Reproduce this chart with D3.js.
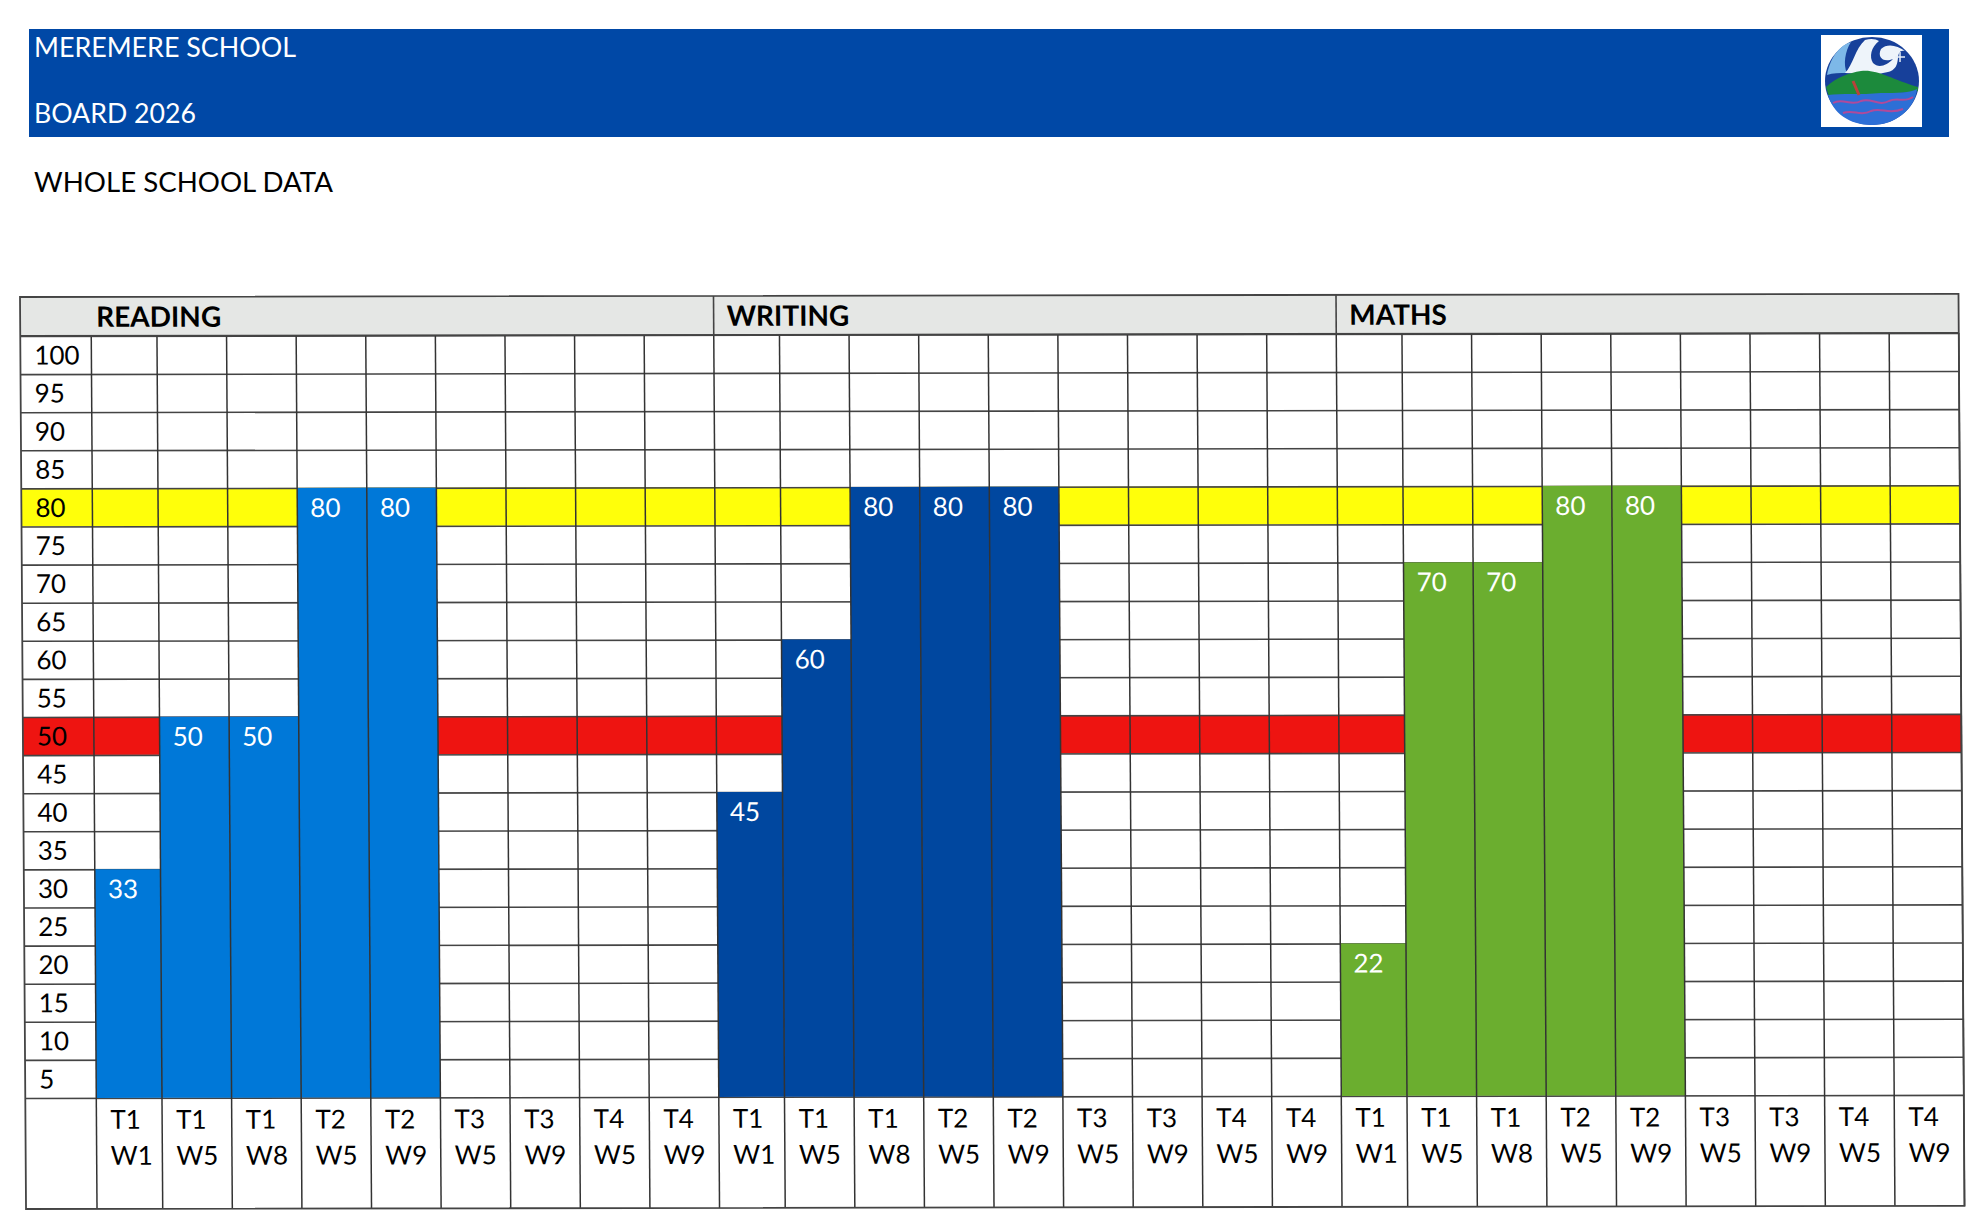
<!DOCTYPE html>
<html>
<head>
<meta charset="utf-8">
<script src="https://cdn.jsdelivr.net/npm/d3@7"></script>
<style>
  html, body { margin: 0; padding: 0; background: #fff; }
  svg { display: block; }
  text { font-family: "Lato", "Open Sans", sans-serif; }
</style>
</head>
<body>
<svg width="1980" height="1224"></svg>
<script>
/* Data */

var schoolName = "MEREMERE SCHOOL";
var boardName = "BOARD 2026";
var pageTitle = "WHOLE SCHOOL DATA";

var subjects = ["READING", "WRITING", "MATHS"];
var terms = ["T1", "T1", "T1", "T2", "T2", "T3", "T3", "T4", "T4"];
var weeks = ["W1", "W5", "W8", "W5", "W9", "W5", "W9", "W5", "W9"];
var rowTicks = [100, 95, 90, 85, 80, 75, 70, 65, 60, 55, 50, 45, 40, 35, 30, 25, 20, 15, 10, 5];

// printed value of each column, blank until the term has been assessed
var readingLabels = [33, 50, 50, 80, 80, null, null, null, null];
var writingLabels = [45, 60, 80, 80, 80, null, null, null, null];
var mathsLabels = [22, 70, 70, 80, 80, null, null, null, null];

// height the column is actually shaded to on the sheet
var readingLevels = [30, 50, 50, 80, 80, null, null, null, null];
var writingLevels = [40, 60, 80, 80, 80, null, null, null, null];
var mathsLevels = [20, 70, 70, 80, 80, null, null, null, null];

var targetRow = 80;
var floorRow = 50;

var subjectColors = ["#0078d8", "#00479f", "#6bae2f"];

/* Layout */

var svg = d3.select("svg");

var left = 20,
    labelW = 71,
    firstW = 65.7,
    colW = 69.6,
    top_ = 297,
    plotTop = 336,
    plotBottom = 1098,
    bottom = 1209;

var rowH = (plotBottom - plotTop) / rowTicks.length;

// the sheet was scanned slightly crooked
var shearX = 0.0066, shearY = -0.0016;

// column edges: the first column of every subject is a bit narrower
var edges = [left + labelW];
subjects.forEach(() => {
  terms.forEach((t, i) => edges.push(edges[edges.length - 1] + (i === 0 ? firstW : colW)));
});
var right = edges[edges.length - 1];

var x = d3.scaleLinear().domain(d3.range(edges.length)).range(edges);
var y = d3.scaleLinear().domain([0, 100]).range([plotBottom, plotTop]);

/* Banner */

svg.append("rect")
  .attr("x", 29).attr("y", 29)
  .attr("width", 1920).attr("height", 108)
  .attr("fill", "#0048a6");

var titles = [
  {text: schoolName, y: 57, fill: "#fff", len: 262},
  {text: boardName, y: 123, fill: "#fff", len: 162},
  {text: pageTitle, y: 192, fill: "#000", len: 299}
];
svg.selectAll(".title")
  .data(titles)
  .enter().append("text")
  .classed("title", true)
  .attr("x", 34)
  .attr("y", (d) => d.y)
  .attr("fill", (d) => d.fill)
  .attr("font-size", 27)
  .attr("textLength", (d) => d.len)
  .attr("lengthAdjust", "spacingAndGlyphs")
  .text((d) => d.text);

/* Logo */

var logo = svg.append("g").attr("transform", "translate(1821,35)");
logo.append("rect").attr("width", 101).attr("height", 92).attr("fill", "#fff");
logo.append("ellipse").attr("cx", 51).attr("cy", 46).attr("rx", 47).attr("ry", 44).attr("fill", "#17409a");
logo.append("path").attr("d", "M6,40 C10,20 20,10 30,7 C24,16 22,30 26,38 C18,38 12,38 6,40Z").attr("fill", "#7db8e8");
logo.append("path").attr("d", "M24,38 C32,30 34,14 44,5 C50,3 55,4 58,6 C50,12 48,22 52,28 C58,34 66,30 72,24 C62,28 56,22 60,14 C66,8 76,10 84,16 C70,14 86,36 62,38 C50,42 36,38 24,38Z").attr("fill", "#eef4fa");
logo.append("path").attr("d", "M74,22 h10 M79,17 v10").attr("stroke", "#e8eef8").attr("stroke-width", 1.5);
logo.append("path").attr("d", "M5,52 C16,42 28,38 40,36 C56,34 70,44 97,52 L97,56 C70,60 30,60 8,62Z").attr("fill", "#1c8a3c");
logo.append("path").attr("d", "M7,60 C20,58 40,60 60,58 C75,58 90,58 96,54 C94,74 74,90 51,90 C28,90 12,78 7,60Z").attr("fill", "#2d6fd6");
logo.append("path").attr("d", "M32,46 L38,60").attr("stroke", "#b8433a").attr("stroke-width", 3);
logo.append("path").attr("d", "M12,68 C22,62 30,72 40,66 C50,62 58,72 68,66 C76,62 84,68 92,62 M22,78 C32,74 40,82 50,76 C60,72 68,80 82,74").attr("fill", "none").attr("stroke", "#b04a9a").attr("stroke-width", 2);

/* Table */

var sheet = svg.append("g")
  .attr("transform", `matrix(1 ${shearY} ${shearX} 1 ${-shearX * top_} ${-shearY * left})`);

sheet.append("rect")
  .attr("x", left).attr("y", top_)
  .attr("width", right - left).attr("height", plotTop - top_)
  .attr("fill", "#e5e7e5");

// target and floor rows
var bands = [{v: targetRow, fill: "#ffff0a"}, {v: floorRow, fill: "#ee1411"}];
sheet.selectAll(".band")
  .data(bands)
  .enter().append("rect")
  .classed("band", true)
  .attr("x", left)
  .attr("y", (d) => y(d.v))
  .attr("width", right - left)
  .attr("height", rowH)
  .attr("fill", (d) => d.fill);

// row lines, with the row name sitting in the middle of its row
var yAxis = d3.axisLeft(y)
  .tickValues(rowTicks.concat([0]))
  .tickSize(-(right - left))
  .tickFormat((d) => d === 0 ? "" : d);

sheet.append("g")
  .attr("class", "rows")
  .attr("transform", `translate(${left},0)`)
  .call(yAxis)
  .call((g) => g.select(".domain").remove())
  .call((g) => g.selectAll("line").attr("stroke", "#444").attr("stroke-width", 1.6))
  .call((g) => g.selectAll("text")
    .attr("x", 14)
    .attr("dy", rowH / 2 + 9)
    .attr("text-anchor", "start")
    .attr("font-size", 26)
    .attr("font-family", "Lato")
    .attr("fill", "#000"));

// shaded columns
var columns = [];
var allLabels = [readingLabels, writingLabels, mathsLabels];
var allLevels = [readingLevels, writingLevels, mathsLevels];
subjects.forEach((s, si) => {
  terms.forEach((t, i) => {
    columns.push({
      idx: si * terms.length + i,
      subject: si,
      term: t,
      week: weeks[i],
      label: allLabels[si][i],
      level: allLevels[si][i]
    });
  });
});

var filled = columns.filter((d) => d.level !== null);

sheet.selectAll(".bar")
  .data(filled)
  .enter().append("rect")
  .classed("bar", true)
  .attr("x", (d) => x(d.idx))
  .attr("y", (d) => y(d.level))
  .attr("width", (d) => x(d.idx + 1) - x(d.idx))
  .attr("height", (d) => y(0) - y(d.level))
  .attr("fill", (d) => subjectColors[d.subject]);

sheet.selectAll(".value")
  .data(filled)
  .enter().append("text")
  .classed("value", true)
  .attr("x", (d) => x(d.idx) + 13)
  .attr("y", (d) => y(d.level) + 29)
  .attr("font-size", 26)
  .attr("fill", "#fff")
  .text((d) => d.label);

// column lines, these run over the shading and on through the week row
sheet.selectAll(".col-line")
  .data(d3.range(edges.length))
  .enter().append("line")
  .classed("col-line", true)
  .attr("x1", (d) => x(d))
  .attr("x2", (d) => x(d))
  .attr("y1", plotTop)
  .attr("y2", bottom)
  .attr("stroke", "#333")
  .attr("stroke-width", 1.5);

// the week row
var weekCells = sheet.selectAll(".week")
  .data(columns)
  .enter().append("g")
  .classed("week", true)
  .attr("transform", (d) => `translate(${x(d.idx) + 14},${plotBottom})`);

weekCells.append("text")
  .attr("y", 31)
  .attr("font-size", 26)
  .text((d) => d.term);

weekCells.append("text")
  .attr("y", 67)
  .attr("font-size", 26)
  .text((d) => d.week);

// subject headers
var sectionEdges = subjects.map((s, i) => x(i * terms.length));

sheet.selectAll(".subject-line")
  .data(sectionEdges.slice(1))
  .enter().append("line")
  .classed("subject-line", true)
  .attr("x1", (d) => d)
  .attr("x2", (d) => d)
  .attr("y1", top_)
  .attr("y2", plotTop)
  .attr("stroke", "#444")
  .attr("stroke-width", 1.6);

sheet.selectAll(".subject")
  .data(subjects)
  .enter().append("text")
  .classed("subject", true)
  .attr("x", (d, i) => sectionEdges[i] + (i === 0 ? 5 : 13))
  .attr("y", 327)
  .attr("font-size", 28)
  .attr("font-weight", 700)
  .attr("fill", "#000")
  .text((d) => d);

// outer frame
sheet.append("rect")
  .attr("x", left).attr("y", top_)
  .attr("width", right - left).attr("height", bottom - top_)
  .attr("fill", "none")
  .attr("stroke", "#444")
  .attr("stroke-width", 1.8);

sheet.append("line")
  .attr("x1", left).attr("x2", right)
  .attr("y1", plotTop).attr("y2", plotTop)
  .attr("stroke", "#444").attr("stroke-width", 1.8);
</script>
</body>
</html>
